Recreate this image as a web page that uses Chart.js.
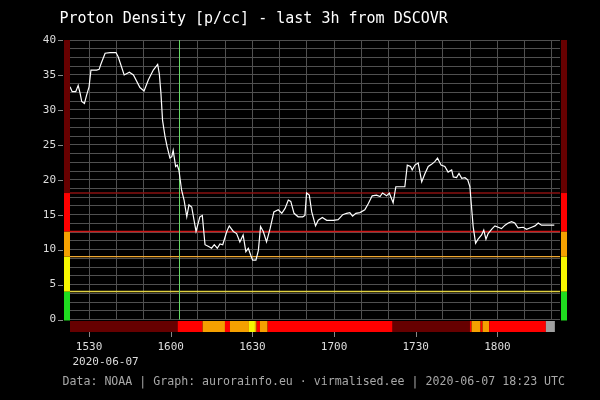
<!DOCTYPE html>
<html><head><meta charset="utf-8">
<script src="https://cdn.jsdelivr.net/npm/chart.js@4"></script>
<style>html,body{margin:0;padding:0;background:#000;}canvas{display:block;}</style>
</head><body>
<canvas id="c" width="600" height="400"></canvas>
<script>
const titleText = 'Proton Density [p/cc] - last 3h from DSCOVR';
const footerText = 'Data: NOAA | Graph: aurorainfo.eu · virmalised.ee | 2020-06-07 18:23 UTC';
const dateLabel = '2020-06-07';

// minutes after 15:23 UTC
const minutes = [0,0.8,2.1,3.0,3.7,4.3,5.3,6.1,7.0,7.7,9.8,10.7,11.4,12.9,14.7,16.9,17.7,19.9,21.8,23.3,
25.7,27.2,28.8,30.6,32.2,32.8,33.4,34.0,34.9,35.7,36.7,37.4,37.9,38.8,39.4,40.0,41.0,41.9,42.9,43.7,
44.7,46.3,47.7,48.6,49.6,51.1,52.0,53.0,54.1,55.1,56.1,57.6,58.5,60.0,61.2,62.4,63.6,64.6,65.5,66.4,
67.1,68.3,69.2,70.0,71.0,72.2,73.5,74.9,76.5,77.8,79.0,80.2,81.1,82.3,83.8,85.5,86.3,86.9,87.9,88.8,
90.2,91.2,92.7,94.3,96.7,98.5,100.2,101.6,102.8,103.8,105.0,
106.5,108.3,109.6,111.0,112.6,113.9,114.8,116.3,117.3,118.7,119.7,121.2,123.0,123.9,125.1,125.7,126.7,127.9,129.2,130.4,
131.6,132.8,134.0,135.0,136.3,137.7,138.9,140.2,140.8,142.0,142.9,143.9,145.1,146.1,146.9,147.5,148.1,149.0,149.9,151.2,
152.0,152.8,153.6,155.1,156.1,157.3,158.5,159.8,161.0,162.2,163.4,164.6,166.5,167.7,169.6,170.8,172.0,173.2,174.4,175.7,177.9];
const density = [33.3,32.6,32.6,33.5,32.4,31.2,30.9,32.1,33.3,35.7,35.7,35.8,36.6,38.1,38.2,38.2,37.6,35.0,35.4,35.0,
33.2,32.7,34.3,35.7,36.5,35.2,32.4,28.5,26.2,24.7,23.1,23.3,24.2,21.9,22.1,21.4,18.5,17.1,14.7,16.4,
16.1,12.6,14.7,14.9,10.7,10.4,10.2,10.7,10.2,10.8,10.7,12.6,13.4,12.6,12.3,11.1,12.1,9.7,10.2,9.2,
8.5,8.5,9.9,13.3,12.6,11.1,13.0,15.4,15.7,15.2,15.9,17.1,16.9,15.2,14.7,14.7,14.9,18.1,17.8,15.4,
13.4,14.2,14.6,14.2,14.2,14.3,15.0,15.2,15.3,14.8,15.2,
15.3,15.7,16.6,17.7,17.8,17.6,18.1,17.7,18.1,16.7,19.0,19.0,19.0,22.1,21.9,21.4,22.1,22.4,19.7,20.9,
21.9,22.2,22.6,23.1,22.1,21.9,21.1,21.4,20.4,20.3,20.9,20.2,20.3,20.0,19.0,16.1,13.3,10.9,11.5,12.1,
12.8,11.5,12.3,13.0,13.4,13.2,13.0,13.5,13.8,14.0,13.8,13.1,13.2,12.9,13.2,13.4,13.8,13.5,13.5,13.5,13.5];

const gridMinutes = [7,17,27,37,47,57,67,77,87,97,107,117,127,137,147,157,167,177];
const tickMinutes = [7,37,67,97,127,157];
const tickLabels = ['1530','1600','1630','1700','1730','1800'];
const yLabelValues = [0,5,10,15,20,25,30,35,40];

const levelBounds = [0,4,9,12.6,18.1,40];
const levelColors = ['#1fdc1f','#f5f500','#f5a000','#ff0000','#660000'];
const thresholdValues = [18.1,12.6,9,4];
const thresholdColors = ['#8a1010','#d01818','#f0a830','#e0d040'];
const markerMinute = 40.1;

const barStarts = [0,39.55,48.73,56.92,58.76,65.74,67.94,68.56,69.78,72.6,118.51,146.9,147.52,150.83,151.56,153.99,174.81];
const barEnds   = [39.55,48.73,56.92,58.76,65.74,67.94,68.56,69.78,72.6,118.51,146.9,147.52,150.83,151.56,153.99,174.81,178.11];
const barColors = ['#660000','#ff0000','#f5a000','#ff0000','#f5a000','#f5f500','#f5a000','#ff0000','#f5a000','#ff0000',
                   '#660000','#ff0000','#f5a000','#ff0000','#f5a000','#ff0000','#a0a0a0'];

const MONO = '"DejaVu Sans Mono", monospace';

const decor = {
  id: 'decor',
  beforeDraw(chart) {
    const c = chart.ctx; c.save(); c.fillStyle = '#000'; c.fillRect(0, 0, chart.width, chart.height); c.restore();
  },
  beforeDatasetsDraw(chart) {
    const {ctx, chartArea: a, scales: {x, y}} = chart;
    ctx.save();
    ctx.lineWidth = 1.4;
    thresholdValues.forEach((v, i) => {
      const py = y.getPixelForValue(v);
      ctx.strokeStyle = thresholdColors[i];
      ctx.beginPath(); ctx.moveTo(a.left, py); ctx.lineTo(a.right, py); ctx.stroke();
    });
    ctx.lineWidth = 1;
    const mx = Math.round(x.getPixelForValue(markerMinute)) + 0.5;
    ctx.strokeStyle = '#66d866';
    ctx.beginPath(); ctx.moveTo(mx, y.getPixelForValue(40)); ctx.lineTo(mx, y.getPixelForValue(0)); ctx.stroke();
    ctx.restore();
  },
  afterDraw(chart) {
    const {ctx, chartArea: a, scales: {x, y}} = chart;
    ctx.save();
    // side level bars
    for (let i = 0; i < levelColors.length; i++) {
      const top = y.getPixelForValue(levelBounds[i + 1]);
      const bot = i === 0 ? y.getPixelForValue(0) + 1 : y.getPixelForValue(levelBounds[i]);
      ctx.fillStyle = levelColors[i];
      ctx.fillRect(a.left - 6, top, 6, bot - top);
      ctx.fillRect(a.right + 1, top, 6, bot - top);
    }
    // bottom status bar
    const by = y.getPixelForValue(0) + 1.5;
    for (let i = 0; i < barColors.length; i++) {
      const x0 = x.getPixelForValue(barStarts[i]);
      const x1 = x.getPixelForValue(barEnds[i]);
      ctx.fillStyle = barColors[i];
      ctx.fillRect(x0, by, x1 - x0, 11);
    }
    // tick marks
    ctx.strokeStyle = '#888';
    ctx.lineWidth = 1;
    yLabelValues.forEach(v => {
      const py = Math.round(y.getPixelForValue(v)) + 0.5;
      ctx.beginPath(); ctx.moveTo(58, py); ctx.lineTo(63, py); ctx.stroke();
    });
    tickMinutes.forEach(m => {
      const px = Math.round(x.getPixelForValue(m)) + 0.5;
      ctx.beginPath(); ctx.moveTo(px, by + 11); ctx.lineTo(px, by + 16); ctx.stroke();
    });
    // texts
    ctx.textBaseline = 'middle';
    ctx.textAlign = 'left';
    ctx.fillStyle = '#ffffff';
    ctx.font = '15px ' + MONO;
    ctx.fillText(titleText, 59.5, 19);
    ctx.fillStyle = '#dddddd';
    ctx.font = '11px ' + MONO;
    ctx.fillText(dateLabel, 72.5, 362);
    ctx.fillStyle = '#a8a8a8';
    ctx.font = '11.6px ' + MONO;
    ctx.fillText(footerText, 62.5, 382);
    ctx.restore();
  }
};

new Chart(document.getElementById('c'), {
  type: 'line',
  data: {
    datasets: [{
      data: minutes.map((m, i) => ({x: m, y: density[i]})),
      borderColor: '#ffffff',
      borderWidth: 1.2,
      pointRadius: 0,
      tension: 0,
      fill: false
    }]
  },
  options: {
    responsive: false,
    animation: false,
    events: [],
    layout: {padding: {left: 0, right: 40, top: 40, bottom: 0}},
    plugins: {legend: {display: false}, tooltip: {enabled: false}, title: {display: false}},
    scales: {
      x: {
        type: 'linear', min: 0, max: 180,
        afterFit(s) { s.height = 80.5; },
        afterBuildTicks(s) { s.ticks = gridMinutes.map(v => ({value: v})); },
        grid: {color: '#505050', drawTicks: false},
        border: {display: false},
        ticks: {
          autoSkip: false, maxRotation: 0, padding: 21,
          color: '#dddddd', font: {family: MONO, size: 11},
          callback(v) { const i = tickMinutes.indexOf(v); return i >= 0 ? tickLabels[i] : ''; }
        }
      },
      y: {
        min: 0, max: 40,
        afterFit(s) { s.width = 70; },
        grid: {color: '#505050', drawTicks: false},
        border: {display: false},
        ticks: {
          stepSize: 1.25, autoSkip: false, padding: 14,
          color: '#dddddd', font: {family: MONO, size: 11},
          callback(v) { return yLabelValues.includes(v) ? String(v) : ''; }
        }
      }
    }
  },
  plugins: [decor]
});
</script>
</body></html>
